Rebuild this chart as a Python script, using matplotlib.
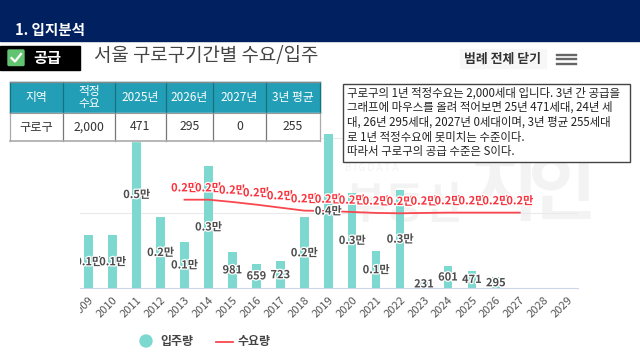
import matplotlib
matplotlib.use("Agg")
import matplotlib.pyplot as plt
from matplotlib.patches import Rectangle, FancyBboxPatch
from matplotlib.transforms import Bbox
import matplotlib.patheffects as pe

plt.rcParams['font.family'] = ['Noto Sans CJK KR', 'DejaVu Sans']

# data
years = list(range(2009, 2030))
supply = [1413, 1413, 5000, 1911, 1244, 3270, 981, 659, 723, 1893, 4120, 2551, 987, 2622, 231, 601, 471, 295, 0, 0, 0]
supply_labels = ['0.1만', '0.1만', '0.5만', '0.2만', '0.1만', '0.3만', '981', '659', '723', '0.2만', '0.4만', '0.3만', '0.1만', '0.3만', '231', '601', '471', '295', '', '', '']
demand_years = list(range(2013, 2028))
demand = [2363, 2363, 2302, 2231, 2151, 2071, 2062, 2035, 2010, 2000, 2010, 2018, 2018, 2018, 2018]
demand_label = '0.2만'
table_head = ['지역', '적정\n수요', '2025년', '2026년', '2027년', '3년 평균']
table_row = ['구로구', '2,000', '471', '295', '0', '255']
note_lines = ['구로구의 1년 적정수요는 2,000세대 입니다. 3년 간 공급을',
              '그래프에 마우스를 올려 적어보면 25년 471세대, 24년 세',
              '대, 26년 295세대, 2027년 0세대이며, 3년 평균 255세대',
              '로 1년 적정수요에 못미치는 수준이다.',
              '따라서 구로구의 공급 수준은 S이다.']

W, H = 640, 360
fig = plt.figure(figsize=(W / 100, H / 100), dpi=100)
bg = fig.add_axes([0, 0, 1, 1])
bg.set_xlim(0, W)
bg.set_ylim(H, 0)
bg.axis('off')

# watermark behind the chart
wm = '#f3f3f3'
bg.text(345, 205, '부동산', fontsize=31, color=wm, ha='left', va='center', weight='bold')
bg.text(345, 168, 'B I G D A T A', fontsize=7, color=wm, ha='left', va='center')
bg.text(470, 192, '지', fontsize=54, color=wm, ha='left', va='center', weight='bold')
bg.text(528, 192, '인', fontsize=54, color=wm, ha='left', va='center', weight='bold')

# chart
left, right, base, top = 80, 578, 288.3, 100
ax = fig.add_axes([left / W, 1 - base / H, (right - left) / W, (base - top) / H], zorder=2)
ax.patch.set_alpha(0)
px = 23.95
ax.set_xlim((left - 88.7) / px, (right - 88.7) / px)
ax.set_ylim(0, (base - top) / 0.0375)
xs = list(range(len(years)))
ax.bar(xs, supply, width=0.36, color='#7dd8cf', zorder=2)
ax.set_yticks([2000, 4000])
ax.set_yticklabels([])
ax.tick_params(axis='y', length=0)
ax.grid(axis='y', color='#e9e9ee', lw=0.8, zorder=0)
ax.set_axisbelow(True)
for s in ['top', 'left', 'right']:
    ax.spines[s].set_visible(False)
ax.spines['bottom'].set_color('#ccd6eb')
ax.spines['bottom'].set_linewidth(0.8)
ax.set_xticks(xs)
ax.set_xticklabels(years, rotation=45, ha='right', rotation_mode='anchor', fontsize=8, color='#555555', weight='medium')
ax.tick_params(axis='x', length=0, pad=5)
clip = Bbox([[left, 0], [W, H]])
for t in ax.get_xticklabels():
    t.set_clip_box(clip)
    t.set_clip_on(True)

halo = [pe.withStroke(linewidth=1.8, foreground='white')]
for x, v, lab in zip(xs, supply, supply_labels):
    if lab:
        ax.text(x, v / 2, lab, ha='center', va='center', fontsize=8, color='#4d4d4d', weight='bold',
                path_effects=halo, clip_on=True, zorder=4)

dx = [y - years[0] for y in demand_years]
ax.plot(dx, demand, color='#f9474f', lw=1.3, zorder=3)
for x, v in zip(dx, demand):
    ax.annotate(demand_label, (x, v), xytext=(0, 8.5), textcoords='offset points', ha='center', va='center',
                fontsize=8, color='#f9323c', weight='bold', path_effects=halo, zorder=5)

# everything on top of the chart
fg = fig.add_axes([0, 0, 1, 1], zorder=5)
fg.set_xlim(0, W)
fg.set_ylim(H, 0)
fg.axis('off')

fg.add_patch(Rectangle((0, 0), W, 41, color='#002060'))
fg.text(15, 29.5, '1. 입지분석', color='white', fontsize=10.5, weight='bold', va='center')

fg.add_patch(Rectangle((0, 46), 80, 24, color='black'))
fg.add_patch(FancyBboxPatch((9, 51), 14, 13.5, boxstyle='round,pad=1', color='#62c370'))
fg.plot([11.5, 15, 21], [58, 61.5, 54], color='white', lw=1.6)
fg.text(47.5, 58, '공급', color='white', fontsize=11, weight='bold', ha='center', va='center')
fg.text(94, 56, '서울 구로구기간별 수요/입주', color='#444444', fontsize=13.6, weight='medium', va='center')

fg.add_patch(Rectangle((460, 49), 86, 19, color='#f7f7f7'))
fg.text(503, 59, '범례 전체 닫기', color='#333333', fontsize=9.3, weight='bold', ha='center', va='center')
for y in (54.5, 59, 63.5):
    fg.plot([557, 576], [y, y], color='#666666', lw=1.7)

# table
col_x = [10, 63, 115, 166, 213, 266, 320]
y0, y1, y2 = 82, 113, 141
fg.add_patch(Rectangle((col_x[0], y0), col_x[-1] - col_x[0], y1 - y0, color='#229fb6'))
fg.add_patch(Rectangle((col_x[0], y1), col_x[-1] - col_x[0], y2 - y1, color='white'))
for i in range(6):
    xc = (col_x[i] + col_x[i + 1]) / 2
    fg.text(xc, (y0 + y1) / 2, table_head[i], color='white', fontsize=8.5, ha='center', va='center', linespacing=1.0)
    fg.text(xc, (y1 + y2) / 2, table_row[i], color='#333333', fontsize=8.8, ha='center', va='center')
for x in col_x:
    fg.plot([x, x], [y0, y1], color='#17707f', lw=0.9)
    fg.plot([x, x], [y1, y2], color='#777777' if x not in (col_x[0], col_x[-1]) else '#aaaaaa', lw=0.9)
fg.plot([col_x[0], col_x[-1]], [y0, y0], color='#888888', lw=1)
fg.plot([col_x[0], col_x[-1]], [y1, y1], color='#999999', lw=0.8)
fg.plot([col_x[0], col_x[-1]], [y2, y2], color='#aaaaaa', lw=1.2)

# note box
fg.add_patch(Rectangle((342.7, 83.5), 287.3, 78.5, facecolor='white', edgecolor='#444444', lw=1))
for i, line in enumerate(note_lines):
    fg.text(347, 93 + i * 14.6, line, color='#222222', fontsize=8.25, va='center')

# legend
fg.add_patch(plt.Circle((146, 341), 6, color='#7dd8cf'))
fg.text(160.5, 341, '입주량', color='#444444', fontsize=8.6, weight='bold', va='center')
fg.plot([216, 233], [342, 342], color='#f9474f', lw=1.3)
fg.text(238, 341, '수요량', color='#444444', fontsize=8.6, weight='bold', va='center')

fig.savefig('out.png', dpi=100)
